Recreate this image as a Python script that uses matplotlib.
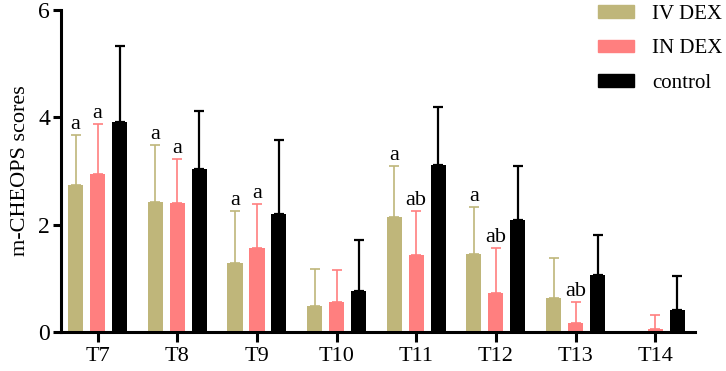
import numpy as np
import matplotlib.pyplot as plt
from matplotlib.patches import Patch

plt.rcParams['font.family'] = ['Liberation Serif', 'DejaVu Serif']

# time points
categories = ["T7", "T8", "T9", "T10", "T11", "T12", "T13", "T14"]

# group means
iv_dex = [2.74, 2.43, 1.29, 0.48, 2.14, 1.46, 0.63, 0.0]
in_dex = [2.95, 2.40, 1.56, 0.56, 1.43, 0.73, 0.17, 0.05]
control = [3.91, 3.04, 2.19, 0.77, 3.11, 2.08, 1.06, 0.41]

# upper error bar ends (mean + SD)
iv_top = [3.67, 3.49, 2.25, 1.18, 3.10, 2.32, 1.37, 0.0]
in_top = [3.87, 3.23, 2.38, 1.15, 2.25, 1.56, 0.55, 0.31]
ctrl_top = [5.33, 4.12, 3.58, 1.71, 4.19, 3.09, 1.81, 1.04]

# significance letters
iv_letters = ["a", "a", "a", "", "a", "a", "", ""]
in_letters = ["a", "a", "a", "", "ab", "ab", "ab", ""]

series = [
    ("IV DEX", iv_dex, iv_top, "#BFB67A", 1.2, iv_letters),
    ("IN DEX", in_dex, in_top, "#FF7F7F", 1.2, in_letters),
    ("control", control, ctrl_top, "black", 1.6, None),
]

fig = plt.figure(figsize=(7.26, 3.71), dpi=100)
ax = fig.add_axes([61 / 726, 39 / 371, (695 - 61) / 726, (332 - 10) / 371])

x = np.arange(len(categories))
offset = 0.276
width = 0.19

for i, (name, vals, tops, color, lw, letters) in enumerate(series):
    xs = x + (i - 1) * offset
    vals = np.array(vals)
    tops = np.array(tops)
    ax.bar(xs, vals, width=width, color=color, zorder=2)
    err = tops - vals
    mask = err > 0
    ax.errorbar(xs[mask], vals[mask], yerr=[np.zeros(mask.sum()), err[mask]],
                fmt='none', ecolor=color, elinewidth=lw, capsize=3.5,
                capthick=lw, zorder=1)
    if letters:
        for xi, t, lab in zip(xs, tops, letters):
            if lab:
                ax.text(xi, t + 0.02, lab, ha='center', va='bottom', fontsize=16)

ax.set_xlim(-0.46, 7.5)
ax.set_ylim(0, 6)
ax.set_yticks([0, 2, 4, 6])
ax.set_xticks(x)
ax.set_xticklabels(categories)
ax.tick_params(axis='y', labelsize=17, width=2.2, length=6, pad=2)
ax.tick_params(axis='x', labelsize=16, width=2.2, length=7)
for s in ['top', 'right']:
    ax.spines[s].set_visible(False)
for s in ['left', 'bottom']:
    ax.spines[s].set_linewidth(2.2)
ax.set_ylabel("m-CHEOPS scores", fontsize=16, labelpad=6)

handles = [Patch(color=c, label=n) for n, _, _, c, _, _ in series]
fig.legend(handles=handles, loc='upper left', bbox_to_anchor=(590 / 726, 1.01),
           frameon=False, fontsize=15, handlelength=1.7, handleheight=0.55,
           labelspacing=0.75, handletextpad=0.9, borderaxespad=0)

fig.savefig("out.png", dpi=100)
